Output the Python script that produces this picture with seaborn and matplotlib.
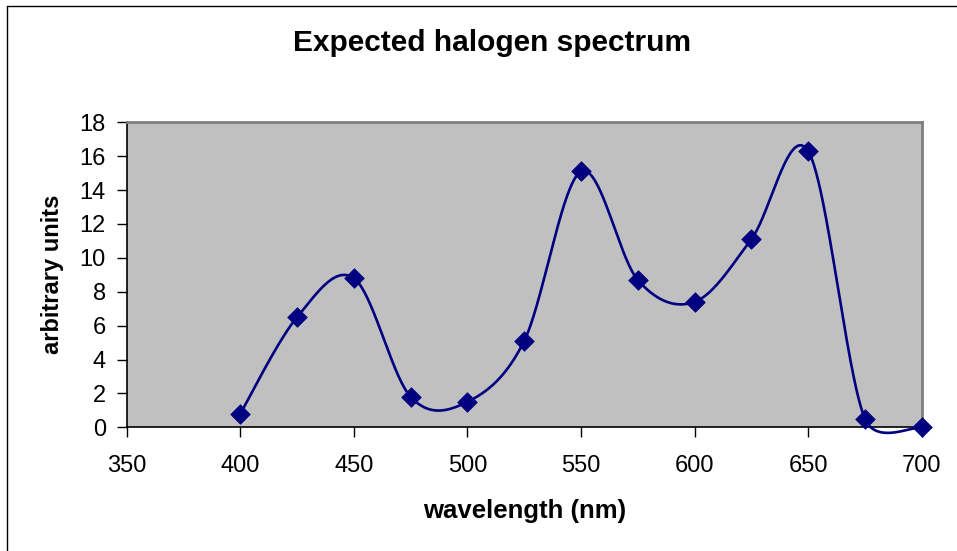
import numpy as np
import pandas as pd
import matplotlib
matplotlib.use("Agg")
import matplotlib.pyplot as plt
from matplotlib.lines import Line2D
import seaborn as sns

# Spectrum samples
wavelength = [400, 425, 450, 475, 500, 525, 550, 575, 600, 625, 650, 675, 700]
intensity = [0.8, 6.5, 8.8, 1.8, 1.5, 5.1, 15.1, 8.7, 7.4, 11.1, 16.3, 0.5, 0.0]
x_ticks = [350, 400, 450, 500, 550, 600, 650, 700]
y_ticks = [0, 2, 4, 6, 8, 10, 12, 14, 16, 18]

title = "Expected halogen spectrum"
x_label = "wavelength (nm)"
y_label = "arbitrary units"

NAVY = "#000080"
PLOT_BG = "#C0C0C0"


def smooth_curve(ax, xs, ys, steps=80):
    """Spreadsheet-style Bezier smoothing through every point.

    Control arms are 1/6 of the neighbour chord, capped at half the segment
    length; lengths are measured in display space.
    """
    data = np.column_stack([xs, ys]).astype(float)
    p = ax.transData.transform(data)
    n = len(p)
    t = np.linspace(0, 1, steps)[:, None]
    out = []
    for i in range(n - 1):
        p0 = p[i - 1] if i > 0 else p[i]
        p1 = p[i]
        p2 = p[i + 1]
        p3 = p[i + 2] if i + 2 < n else p[i + 1]
        d12 = np.linalg.norm(p2 - p1)
        d02 = np.linalg.norm(p2 - p0)
        d13 = np.linalg.norm(p3 - p1)
        f1 = 1 / 6 if d02 / 6 <= d12 / 2 or d02 == 0 else d12 / (2 * d02)
        f2 = 1 / 6 if d13 / 6 <= d12 / 2 or d13 == 0 else d12 / (2 * d13)
        c1 = p1 + (p2 - p0) * f1
        c2 = p2 - (p3 - p1) * f2
        seg = ((1 - t) ** 3) * p1 + 3 * ((1 - t) ** 2) * t * c1 \
            + 3 * (1 - t) * t ** 2 * c2 + t ** 3 * p2
        out.append(seg if i == 0 else seg[1:])
    return ax.transData.inverted().transform(np.vstack(out))


sns.set_theme(style="white")
plt.rcParams["font.family"] = ["Liberation Sans", "DejaVu Sans"]

fig = plt.figure(figsize=(9.57, 5.51), dpi=100)
ax = fig.add_axes([0.1324, 0.2245, 0.8307, 0.5535])
ax.set_facecolor(PLOT_BG)
ax.set_xlim(350, 700)
ax.set_ylim(0, 18)

df = pd.DataFrame({"wavelength": wavelength, "intensity": intensity})
curve = smooth_curve(ax, df["wavelength"].to_numpy(), df["intensity"].to_numpy())
curve_df = pd.DataFrame({"x": curve[:, 0], "y": curve[:, 1]})

sns.lineplot(data=curve_df, x="x", y="y", sort=False, estimator=None,
             color=NAVY, linewidth=1.9, ax=ax, clip_on=False, zorder=3)
sns.scatterplot(data=df, x="wavelength", y="intensity", marker="D", s=100,
                color=NAVY, edgecolor=NAVY, linewidth=0.5, ax=ax,
                clip_on=False, zorder=4)

ax.set_xlim(350, 700)
ax.set_ylim(0, 18)
ax.set_xticks(x_ticks)
ax.set_yticks(y_ticks)
ax.tick_params(axis="both", direction="out", length=7, width=1.0,
               color="black", labelsize=17, labelcolor="black",
               bottom=True, left=True)
ax.tick_params(axis="x", pad=13)
ax.tick_params(axis="y", pad=8)

for side in ("top", "right"):
    ax.spines[side].set_color("#808080")
    ax.spines[side].set_linewidth(2.0)
for side in ("bottom", "left"):
    ax.spines[side].set_color("black")
    ax.spines[side].set_linewidth(1.2)
    ax.spines[side].set_zorder(2)

ax.set_xlabel(x_label, fontsize=18.5, fontweight="bold", labelpad=16,
              color="black")
ax.set_ylabel(y_label, fontsize=17, fontweight="bold", labelpad=11,
              color="black")

fig.text(492 / 957, 1 - 51 / 551, title, ha="center", va="baseline",
         fontsize=21.5, fontweight="bold", color="black")

# chart-area border along left and top edges
fig.add_artist(Line2D([7 / 957, 7 / 957], [0, 1 - 5.5 / 551],
                      transform=fig.transFigure, color="black", linewidth=1.0))
fig.add_artist(Line2D([7 / 957, 1], [1 - 5.5 / 551, 1 - 5.5 / 551],
                      transform=fig.transFigure, color="black", linewidth=1.0))

fig.savefig("out.png", dpi=100, facecolor="white")
